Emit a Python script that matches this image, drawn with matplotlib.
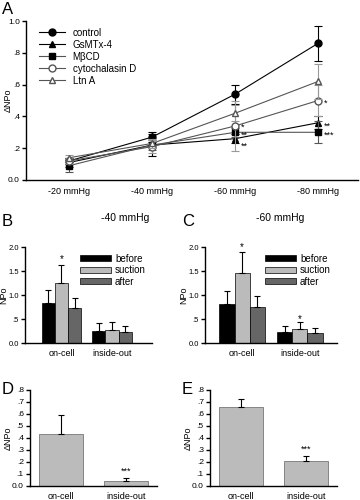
import matplotlib
matplotlib.use("Agg")
import matplotlib.pyplot as plt
import numpy as np

plt.rcParams['font.family'] = ['Liberation Sans', 'DejaVu Sans']
plt.rcParams['font.size'] = 7

# panel A: delta NPo vs suction
pressures = ["-20 mmHg", "-40 mmHg", "-60 mmHg", "-80 mmHg"]
control = [0.12, 0.27, 0.54, 0.86]
control_err = [0.02, 0.03, 0.06, 0.11]
gsmtx = [0.11, 0.22, 0.26, 0.36]
gsmtx_err = [0.03, 0.07, 0.03, 0.04]
mbcd = [0.09, 0.22, 0.30, 0.30]
mbcd_err = [0.04, 0.03, 0.03, 0.07]
cytd = [0.12, 0.21, 0.34, 0.50]
cytd_err = [0.02, 0.04, 0.16, 0.10]
ltna = [0.14, 0.23, 0.42, 0.62]
ltna_err = [0.02, 0.03, 0.05, 0.11]

# panels B, C: NPo before / suction / after
groups = ["on-cell", "inside-out"]
b_before = [0.84, 0.25]
b_before_err = [0.27, 0.17]
b_suction = [1.24, 0.28]
b_suction_err = [0.38, 0.16]
b_after = [0.72, 0.22]
b_after_err = [0.22, 0.13]

c_before = [0.82, 0.22]
c_before_err = [0.26, 0.13]
c_suction = [1.45, 0.29]
c_suction_err = [0.44, 0.15]
c_after = [0.76, 0.20]
c_after_err = [0.22, 0.11]

# panels D, E: delta NPo
d_vals = [0.435, 0.045]
d_err = [0.155, 0.02]
e_vals = [0.655, 0.21]
e_err = [0.07, 0.04]

W, H = 360, 500
fig = plt.figure(figsize=(W / 100, H / 100), dpi=100)


def px_axes(left, top, right, bottom):
    return fig.add_axes([left / W, 1 - bottom / H, (right - left) / W, (bottom - top) / H])


def style(ax, ylabel, label_x_px, left_px, width_px, tsize=6):
    for s in ["top", "right"]:
        ax.spines[s].set_visible(False)
    ax.spines["left"].set_linewidth(1.0)
    ax.spines["bottom"].set_linewidth(1.0)
    ax.tick_params(direction="out", length=3, width=1, labelsize=tsize, pad=1.5)
    ax.set_ylabel(ylabel, fontsize=6.5)
    # label anchor is its right edge after rotation
    ax.yaxis.set_label_coords((label_x_px - left_px) / width_px, 0.5)


# ---- A ----
ax = px_axes(26, 21, 358, 180)
style(ax, "ΔNPo", 13, 26, 332)
x = np.arange(len(pressures))
series = [
    ("control", control, control_err, "o", "black", "black", "black"),
    ("GsMTx-4", gsmtx, gsmtx_err, "^", "black", "black", "black"),
    ("MβCD", mbcd, mbcd_err, "s", "black", "#555555", "#555555"),
    ("cytochalasin D", cytd, cytd_err, "o", "white", "#555555", "#999999"),
    ("Ltn A", ltna, ltna_err, "^", "white", "#555555", "#999999"),
]
for name, vals, err, mk, fc, lc, ec in series:
    ax.errorbar(x, vals, yerr=err, fmt="none", ecolor=ec, elinewidth=0.8, capsize=3, capthick=0.8)
    ax.plot(x, vals, marker=mk, markersize=5, markerfacecolor=fc,
            markeredgecolor="black" if fc == "black" else "#555555",
            color=lc, linewidth=0.8, label=name)
ax.set_xlim(-0.52, 3.48)
ax.set_ylim(0, 1.0)
ax.set_yticks([0, 0.2, 0.4, 0.6, 0.8, 1.0])
ax.set_yticklabels(["0.0", ".2", ".4", ".6", ".8", "1.0"])
ax.set_xticks(x)
ax.set_xticklabels(pressures, fontsize=6.5)
ax.tick_params(axis="x", length=0, pad=5)
ax.legend(loc="upper left", bbox_to_anchor=(0.02, 1.0), frameon=False, fontsize=7,
          handlelength=2.6, labelspacing=0.2, borderaxespad=0.3)
for xi, yi, s in [(3, 0.50, "*"), (3, 0.36, "**"), (3, 0.30, "***"),
                  (2, 0.35, "*"), (2, 0.30, "**"), (2, 0.23, "**")]:
    ax.text(xi + 0.07, yi - 0.02, s, fontsize=6.5, va="center", ha="left")
fig.text(2 / W, 1 - 9 / H, "A", fontsize=12, va="center", ha="left")


# ---- B, C ----
def bar_panel(ax, before, before_err, suction, suction_err, after, after_err, xl):
    xg = np.arange(len(groups))
    w = 0.26
    ekw = dict(elinewidth=0.8, capsize=2.5, capthick=0.8)
    ax.bar(xg - w, before, w, color="black", edgecolor="black", linewidth=0.5, label="before",
           yerr=[np.zeros(2), before_err], error_kw=ekw)
    ax.bar(xg, suction, w, color="#bbbbbb", edgecolor="black", linewidth=0.5, label="suction",
           yerr=[np.zeros(2), suction_err], error_kw=ekw)
    ax.bar(xg + w, after, w, color="#666666", edgecolor="black", linewidth=0.5, label="after",
           yerr=[np.zeros(2), after_err], error_kw=ekw)
    ax.set_xlim(*xl)
    ax.set_ylim(0, 2.0)
    ax.set_yticks([0, 0.5, 1.0, 1.5, 2.0])
    ax.set_yticklabels(["0.0", ".5", "1.0", "1.5", "2.0"])
    ax.set_xticks(xg)
    ax.set_xticklabels(groups, fontsize=6.5)
    ax.tick_params(axis="x", length=0, pad=4)
    ax.legend(loc="upper right", bbox_to_anchor=(1.02, 1.02), frameon=False, fontsize=7,
              handlelength=3.2, handleheight=0.6, labelspacing=0.15, handletextpad=0.4)


axb = px_axes(25, 247, 152, 343)
style(axb, "NPo", 8, 25, 127, tsize=5.5)
bar_panel(axb, b_before, b_before_err, b_suction, b_suction_err, b_after, b_after_err, (-0.72, 1.79))
axb.text(0, b_suction[0] + b_suction_err[0] + 0.02, "*", ha="center", va="bottom", fontsize=7)
fig.text(2 / W, 1 - 222 / H, "B", fontsize=12, va="center", ha="left")
fig.text(125 / W, 1 - 218 / H, "-40 mmHg", fontsize=7.5, va="center", ha="center")

axc = px_axes(205, 247, 337, 343)
style(axc, "NPo", 188, 205, 132, tsize=5.5)
bar_panel(axc, c_before, c_before_err, c_suction, c_suction_err, c_after, c_after_err, (-0.64, 1.64))
axc.text(0, c_suction[0] + c_suction_err[0] + 0.0, "*", ha="center", va="bottom", fontsize=7)
axc.text(1, c_suction[1] + c_suction_err[1] - 0.05, "*", ha="center", va="bottom", fontsize=7)
fig.text(182 / W, 1 - 222 / H, "C", fontsize=12, va="center", ha="left")
fig.text(280 / W, 1 - 218 / H, "-60 mmHg", fontsize=7.5, va="center", ha="center")


# ---- D, E ----
def delta_panel(ax, vals, err, star_y):
    xg = np.arange(len(groups))
    ax.bar(xg, vals, 0.68, color="#bbbbbb", edgecolor="#777777", linewidth=0.6,
           yerr=[np.zeros(2), err], error_kw=dict(elinewidth=0.8, capsize=2.5, capthick=0.8))
    ax.set_xlim(-0.48, 1.48)
    ax.set_ylim(0, 0.8)
    ticks = np.arange(0, 0.81, 0.1)
    ax.set_yticks(ticks)
    ax.set_yticklabels(["0.0"] + ["." + str(i) for i in range(1, 9)])
    ax.set_xticks(xg)
    ax.set_xticklabels(groups, fontsize=6.5)
    ax.tick_params(axis="x", length=0, pad=4)
    ax.text(1, star_y, "***", ha="center", va="bottom", fontsize=6.5)


axd = px_axes(30, 390, 157, 486)
style(axd, "ΔNPo", 13, 30, 127)
delta_panel(axd, d_vals, d_err, 0.085)
fig.text(2 / W, 1 - 390 / H, "D", fontsize=12, va="center", ha="left")

axe = px_axes(210, 390, 337, 486)
style(axe, "ΔNPo", 193, 210, 127)
delta_panel(axe, e_vals, e_err, 0.27)
fig.text(182 / W, 1 - 390 / H, "E", fontsize=12, va="center", ha="left")

fig.savefig("out.png", dpi=100)
